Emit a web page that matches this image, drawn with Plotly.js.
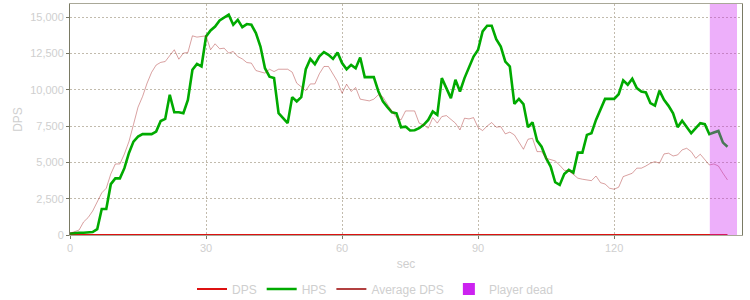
<!DOCTYPE html>
<html>
<head>
<meta charset="utf-8">
<script src="https://cdn.plot.ly/plotly-3.0.1.min.js"></script>
<style>html,body{margin:0;padding:0;background:#fff;}#chart{width:750px;height:300px;}</style>
</head>
<body>
<div id="chart"></div>
<script>
// time in seconds (one sample per second)
const seconds = Array.from({length: 146}, (_, i) => i);

const hps = [
  100,150,150,150,150,200,400,1790,1790,3500,
  3900,3900,4600,5650,6430,6770,6940,6940,6940,7120,
  7850,7990,9650,8450,8450,8380,9300,11370,11780,11600,
  13660,14080,14350,14770,14950,15160,14470,14810,14310,14520,
  14470,13900,12970,11480,10900,10800,8380,8040,7700,9490,
  9190,9490,11410,12120,11760,12300,12590,12400,12120,12560,
  11830,11410,11710,11480,12220,10870,10870,10870,9900,9200,
  8800,8450,8380,7420,7460,7190,7210,7350,7580,7920,
  8500,8270,10800,10110,9420,10680,9880,10800,11600,12280,
  12750,14010,14400,14400,13480,12970,11940,11600,9030,9370,
  9010,7420,7760,6500,6080,5280,4710,3630,3450,4200,
  4480,4290,5670,5670,6890,7010,7920,8610,9370,9370,
  9370,9690,10640,10340,10750,10110,9880,9810,9080,8910,
  9940,9300,8890,8380,7420,7870,7420,7010,7350,7700,
  7630,6940,7050,7160,6360,6080
];

const avgDps = [
  120,250,340,900,1200,1650,2300,2900,3220,4200,
  4890,4890,5580,6430,7600,8800,9530,10450,11200,11700,
  11880,11940,12350,12750,12100,12520,12560,13710,13620,13650,
  13710,12750,13160,12820,12860,12520,12630,12280,12120,11870,
  11830,11320,11250,11140,11410,11250,11410,11410,11410,11210,
  10450,10200,9940,10400,10400,11100,11600,11600,11100,10560,
  9760,10380,9880,10150,9350,9280,9230,9350,9650,9500,
  9000,8500,8100,7920,8540,8540,8540,7700,7580,7350,
  8080,7700,8150,8220,7990,7700,7230,8040,7990,8080,
  7390,7190,7500,7740,7420,7460,6960,7080,6890,6430,
  5900,6590,6660,5740,5740,5280,5170,5100,4800,4450,
  4430,4200,3910,3840,3800,3740,4060,3600,3510,3220,
  3150,3290,4020,4130,4250,4600,4600,4750,4940,5050,
  4940,5580,5630,5440,5510,5860,5970,5740,5280,5560,
  5210,4820,4890,4750,4250,3790
];

const dps = seconds.map(() => 0);

// player dead interval (seconds)
const deadStart = 141.1;
const deadEnd = 147.1;

const yTicks = [0, 2500, 5000, 7500, 10000, 12500, 15000];
const xTicks = [0, 30, 60, 90, 120];

const FONT = 'Liberation Sans, Arial, sans-serif';
const TXT = '#cfcfcf';

const traces = [
  {x: seconds, y: dps, name: 'DPS', mode: 'lines', line: {color: '#dd1111', width: 2}},
  {x: seconds, y: hps, name: 'HPS', mode: 'lines', line: {color: '#00aa00', width: 2.6}},
  {x: seconds, y: avgDps, name: 'Average DPS', mode: 'lines', showlegend: false,
   line: {color: 'rgba(160,20,20,0.4)', width: 1}},
  // legend-only entries (no data drawn)
  {x: [null], y: [null], name: 'Average DPS', mode: 'lines', line: {color: '#990000', width: 1.5}},
  {x: [null], y: [null], name: 'Player dead', mode: 'markers',
   marker: {symbol: 'square', size: 12, color: '#cc22f0'}}
];

const layout = {
  width: 750, height: 300,
  margin: {l: 70, r: 8, t: 4, b: 65, autoexpand: false},
  paper_bgcolor: '#fff', plot_bgcolor: '#fff',
  font: {family: FONT, size: 11, color: TXT},
  showlegend: true,
  legend: {orientation: 'h', xref: 'container', x: 0.5, xanchor: 'center', y: -0.234, yanchor: 'middle',
           font: {family: FONT, size: 12, color: TXT}, itemwidth: 30, traceorder: 'normal'},
  xaxis: {
    range: [0, 148.2], tickvals: xTicks, ticktext: xTicks.map(String),
    showgrid: true, gridcolor: '#c2bbad', griddash: '2px,2px', gridwidth: 1,
    zeroline: false, showline: true, linecolor: '#a9a898', linewidth: 1, mirror: true,
    ticks: 'outside', ticklen: 3, tickcolor: '#777766',
    tickfont: {family: FONT, size: 11, color: TXT},
    title: {text: 'sec', font: {family: FONT, size: 12, color: TXT}, standoff: 6}
  },
  yaxis: {
    range: [0, 15900], tickvals: yTicks, ticktext: yTicks.map(v => v.toLocaleString('en-US')),
    showgrid: true, gridcolor: '#c2bbad', griddash: '2px,2px', gridwidth: 1,
    zeroline: false, showline: true, linecolor: '#7a7a64', linewidth: 1, mirror: true,
    ticks: 'outside', ticklen: 3, tickcolor: '#777766',
    tickfont: {family: FONT, size: 11, color: TXT},
    title: {text: 'DPS', font: {family: FONT, size: 12, color: TXT}, standoff: 4}
  },
  shapes: [{
    type: 'rect', xref: 'x', yref: 'paper', x0: deadStart, x1: deadEnd, y0: 0, y1: 1,
    fillcolor: '#cc22f0', opacity: 0.36, line: {width: 0}, layer: 'above'
  }]
};

Plotly.newPlot('chart', traces, layout, {staticPlot: true, displayModeBar: false});
</script>
</body>
</html>
